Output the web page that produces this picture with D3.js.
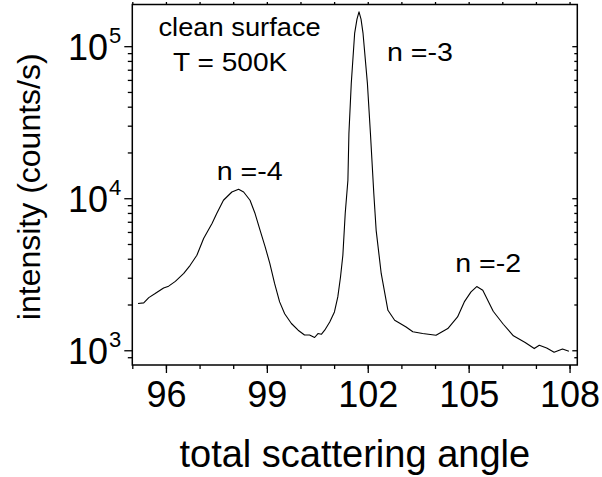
<!DOCTYPE html>
<html>
<head>
<meta charset="utf-8">
<script src="https://cdn.jsdelivr.net/npm/d3@7"></script>
<style>
  body { margin: 0; background: #fff; }
  text { font-family: "Liberation Sans", Arial, sans-serif; fill: #000; }
</style>
</head>
<body>
<div id="graph-container"></div>
<script>
// Data________________________________________________________________
const angles = [
    95.17, 95.34, 95.49, 95.68, 95.93, 96.08, 96.28, 96.53, 96.72, 96.92,
    97.12, 97.37, 97.51, 97.71, 97.96, 98.16, 98.31, 98.50, 98.65, 98.80,
    98.95, 99.09, 99.23, 99.38, 99.53, 99.73, 99.93, 100.12, 100.27, 100.42,
    100.52, 100.62, 100.72, 100.87, 101.01, 101.11, 101.19, 101.26, 101.33, 101.41,
    101.44, 101.51, 101.61, 101.68, 101.74, 101.80, 101.86, 101.99, 102.08, 102.18,
    102.25, 102.40, 102.60, 102.80, 102.94, 103.14, 103.34, 103.63, 104.03, 104.38,
    104.67, 104.87, 105.07, 105.24, 105.42, 105.73, 106.03, 106.33, 106.68, 106.95,
    107.10, 107.32, 107.54, 107.79, 107.98
];
const intensities = [
    2030, 2050, 2220, 2360, 2570, 2640, 2840, 3200, 3620, 4220,
    5430, 6820, 7930, 9700, 10990, 11460, 10990, 9700, 7930, 6150,
    4790, 3715, 2750, 2080, 1740, 1500, 1355, 1260, 1260, 1213,
    1288, 1274, 1355, 1535, 1786, 2244, 3034, 4217, 7930, 13120,
    26680, 56900, 121300, 150700, 168300, 150700, 121300, 56900, 26680, 10740,
    6150, 3200, 1832, 1575, 1513, 1423, 1324, 1288, 1256, 1389,
    1656, 2080, 2422, 2624, 2483, 1806, 1483, 1245, 1125, 1026,
    1079, 1035, 970, 1020, 985
];
const xTicks = [96, 99, 102, 105, 108];
const xMinorTicks = d3.range(95, 109);
const yTicks = [1e3, 1e4, 1e5];
const yExponents = ['3', '4', '5'];
const yMinorTicks = [900, 2e3, 3e3, 4e3, 5e3, 6e3, 7e3, 8e3, 9e3,
    2e4, 3e4, 4e4, 5e4, 6e4, 7e4, 8e4, 9e4];
const peakLabels = ['n =-4', 'n =-3', 'n =-2'];
const peakAngles = [98.49, 103.55, 105.58];
const peakLevels = [13200, 80000, 3290];

// Variables___________________________________________________________
const graphWidth = 602;
const graphHeight = 477;
const margin = { top: 4.5, right: 24.7, bottom: 112, left: 132.3 };
const innerW = graphWidth - margin.left - margin.right;
const innerH = graphHeight - margin.top - margin.bottom;

const xScale = d3.scaleLinear()
    .domain([95, 108.23])
    .range([margin.left, margin.left + innerW]);
const yScale = d3.scaleLog()
    .domain([800, 188000])
    .range([margin.top + innerH, margin.top]);

const data = angles.map((a, i) => [a, intensities[i]]);

// SVG__________________________________________________________________
const svg = d3.select('#graph-container')
    .append('svg')
    .attr('width', graphWidth)
    .attr('height', graphHeight);

// Axes_________________________________________________________________
const axisStyle = (g) => {
    g.select('.domain').remove();
    g.selectAll('line').attr('stroke', '#000').attr('stroke-width', 1.3);
};

// bottom
svg.append('g')
    .attr('transform', `translate(0, ${margin.top + innerH})`)
    .call(d3.axisBottom(xScale).tickValues(xMinorTicks).tickSize(4).tickFormat(''))
    .call(axisStyle);
svg.append('g')
    .attr('transform', `translate(0, ${margin.top + innerH})`)
    .call(d3.axisBottom(xScale).tickValues(xTicks).tickSize(8).tickPadding(0))
    .call(axisStyle)
    .call(g => g.selectAll('text')
        .attr('font-size', 36)
        .attr('dy', null)
        .attr('y', 42));
// top
svg.append('g')
    .attr('transform', `translate(0, ${margin.top})`)
    .call(d3.axisTop(xScale).tickValues(xMinorTicks).tickSize(2.5).tickFormat(''))
    .call(axisStyle);
// left
svg.append('g')
    .attr('transform', `translate(${margin.left}, 0)`)
    .call(d3.axisLeft(yScale).tickValues(yMinorTicks).tickSize(4.5).tickFormat(''))
    .call(axisStyle);
svg.append('g')
    .attr('transform', `translate(${margin.left}, 0)`)
    .call(d3.axisLeft(yScale).tickValues(yTicks).tickSize(8).tickFormat(''))
    .call(axisStyle);
// right
svg.append('g')
    .attr('transform', `translate(${margin.left + innerW}, 0)`)
    .call(d3.axisRight(yScale).tickValues(yMinorTicks).tickSize(-3).tickFormat(''))
    .call(axisStyle);
svg.append('g')
    .attr('transform', `translate(${margin.left + innerW}, 0)`)
    .call(d3.axisRight(yScale).tickValues(yTicks).tickSize(-5).tickFormat(''))
    .call(axisStyle);

// y tick labels as 10 with superscript exponent
const yLabels = svg.append('g')
    .selectAll('g')
    .data(yTicks)
    .enter()
    .append('g')
    .attr('transform', d => `translate(0, ${yScale(d)})`);
yLabels.append('text')
    .attr('x', 108)
    .attr('y', 14)
    .attr('text-anchor', 'end')
    .attr('font-size', 36)
    .text('10');
yLabels.append('text')
    .attr('x', 109)
    .attr('y', -3.5)
    .attr('font-size', 22)
    .text((d, i) => yExponents[i]);

// frame
svg.append('rect')
    .attr('x', margin.left)
    .attr('y', margin.top)
    .attr('width', innerW)
    .attr('height', innerH)
    .attr('fill', 'none')
    .attr('stroke', '#000')
    .attr('stroke-width', 1.5);

// Axis titles__________________________________________________________
svg.append('text')
    .attr('x', margin.left + innerW / 2)
    .attr('y', 467)
    .attr('text-anchor', 'middle')
    .attr('font-size', 38)
    .text('total scattering angle');
svg.append('text')
    .attr('transform', `translate(40, ${margin.top + innerH / 2 + 2}) rotate(-90)`)
    .attr('text-anchor', 'middle')
    .attr('font-size', 32)
    .text('intensity (counts/s)');

// Curve________________________________________________________________
const line = d3.line()
    .x(d => xScale(d[0]))
    .y(d => yScale(d[1]));
svg.append('path')
    .datum(data)
    .attr('fill', 'none')
    .attr('stroke', '#000')
    .attr('stroke-width', 1.1)
    .attr('stroke-linejoin', 'round')
    .attr('d', line);

// Labels_______________________________________________________________
// slightly widened text, like the original
const note = (txt, a, v, sx) => svg.append('text')
    .attr('transform', `translate(${xScale(a)}, ${yScale(v)}) scale(${sx}, 1)`)
    .attr('text-anchor', 'middle')
    .attr('font-size', 26)
    .text(txt);

peakLabels.forEach((d, i) => note(d, peakAngles[i], peakLevels[i], 1.1));
note('clean surface', 98.19, 116800, 1.05);
note('T = 500K', 97.91, 68800, 1.08);
</script>
</body>
</html>
